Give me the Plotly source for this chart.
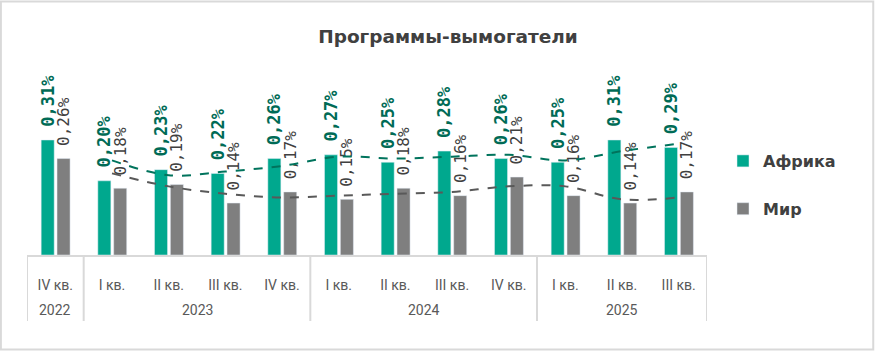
import plotly.graph_objects as go

quarters = ["IV кв.", "I кв.", "II кв.", "III кв.", "IV кв.", "I кв.", "II кв.", "III кв.", "IV кв.", "I кв.", "II кв.", "III кв."]
years = ["2022", "2023", "2023", "2023", "2023", "2024", "2024", "2024", "2024", "2025", "2025", "2025"]
africa = [0.31, 0.20, 0.23, 0.22, 0.26, 0.27, 0.25, 0.28, 0.26, 0.25, 0.31, 0.29]
world = [0.26, 0.18, 0.19, 0.14, 0.17, 0.15, 0.18, 0.16, 0.21, 0.16, 0.14, 0.17]

def fmt(v):
    return "\u00a0" + f"{v:.2f}".replace(".", ",") + "%"

def ma2(vals):
    return [None] + [(vals[i - 1] + vals[i]) / 2 for i in range(1, len(vals))]

W, H = 875, 351
x = list(range(len(quarters)))

# year groups
groups = []
for i, yv in enumerate(years):
    if groups and groups[-1][0] == yv:
        groups[-1][2] = i
    else:
        groups.append([yv, i, i])

AX_BOTTOM = 96 / H
LINE_BOTTOM = (H - 321) / H
YEAR_Y = (H - 310) / H

fig = go.Figure()
fig.add_trace(go.Bar(
    x=x, y=africa, name="Африка", marker_color="#00A88E", legendgroup="a",
    text=[fmt(v) for v in africa], textposition="outside", textangle=-90,
    textfont=dict(family="DejaVu Sans Mono", size=17, color="#006B56", weight="bold"),
    constraintext="none", cliponaxis=False, width=0.23, offset=-0.25,
))
fig.add_trace(go.Bar(
    x=x, y=world, name="Мир", marker_color="#7F7F7F", legendgroup="b",
    text=[fmt(v) for v in world], textposition="outside", textangle=-90,
    textfont=dict(family="DejaVu Sans Mono", size=16, color="#404040"),
    constraintext="none", cliponaxis=False, width=0.23, offset=0.03,
))
fig.add_trace(go.Scatter(
    x=x, y=ma2(africa), mode="lines", showlegend=False, hoverinfo="skip",
    line=dict(color="#00735C", width=2, dash="dash", shape="spline"),
))
fig.add_trace(go.Scatter(
    x=x, y=ma2(world), mode="lines", showlegend=False, hoverinfo="skip",
    line=dict(color="#595959", width=2, dash="dash", shape="spline"),
))

shapes = [dict(type="rect", xref="paper", yref="paper", x0=0.001, x1=0.998, y0=0.004, y1=0.996,
               line=dict(color="#D9D9D9", width=2), fillcolor="rgba(0,0,0,0)")]
annotations = []
bounds = [groups[0][1] - 0.5] + [g[2] + 0.5 for g in groups]
for b in bounds:
    shapes.append(dict(type="line", xref="x", yref="paper", x0=b, x1=b, y0=AX_BOTTOM, y1=LINE_BOTTOM,
                       line=dict(color="#D9D9D9", width=2)))
for yv, i0, i1 in groups:
    annotations.append(dict(text=yv, xref="x", yref="paper", x=(i0 + i1) / 2, y=YEAR_Y,
                            xanchor="center", yanchor="middle", showarrow=False,
                            font=dict(family="Roboto", size=14, color="#595959")))

fig.update_layout(
    width=W, height=H, margin=dict(l=0, r=0, t=0, b=0),
    paper_bgcolor="white", plot_bgcolor="white",
    barmode="overlay",
    title=dict(text="<b>Программы-вымогатели</b>", x=448 / W, xanchor="center",
               y=1 - 37 / H, yanchor="middle",
               font=dict(family="DejaVu Sans", size=18.5, color="#404040")),
    xaxis=dict(domain=[27 / W, 707 / W], range=[-0.5, len(x) - 0.5], showline=True,
               linecolor="#D9D9D9", linewidth=2, ticks="", showgrid=False, zeroline=False,
               tickvals=x, ticktext=quarters, ticklabelstandoff=16,
               tickfont=dict(family="Roboto", size=14, color="#595959")),
    yaxis=dict(domain=[AX_BOTTOM, 1 - 69.5 / H], range=[0, 0.5], visible=False,
               showgrid=False, zeroline=False),
    legend=dict(x=723 / W, y=1 - 144 / H, xanchor="left", yanchor="top",
                traceorder="grouped", tracegroupgap=24,
                font=dict(family="DejaVu Sans", size=16, color="#404040", weight="bold"),
                itemwidth=30, bgcolor="rgba(0,0,0,0)"),
    shapes=shapes, annotations=annotations,
    showlegend=True,
)

fig.write_html("out.html")
